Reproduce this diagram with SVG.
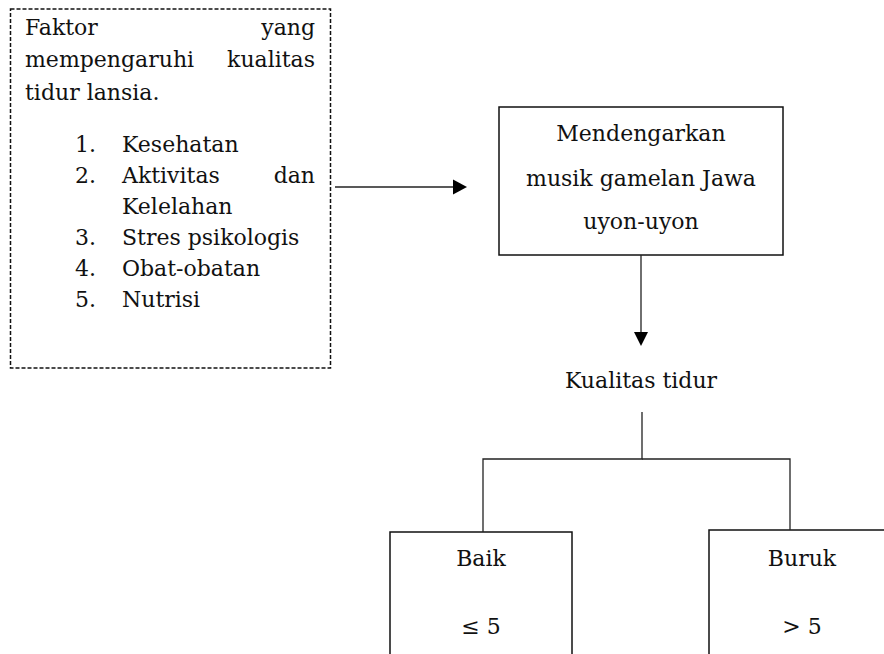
<svg xmlns="http://www.w3.org/2000/svg" width="884" height="654" viewBox="0 0 884 654">
<style>
text{font-family:"DejaVu Serif","Liberation Serif",serif;font-size:22px;fill:#111}
.box{fill:none;stroke:#111;stroke-width:1.5}
.dash{fill:none;stroke:#111;stroke-width:1.5;stroke-dasharray:4 2}
.ln{fill:none;stroke:#222;stroke-width:1.3}
.mid{text-anchor:middle}
.end{text-anchor:end}
</style>
<g id="factors">
<rect class="dash" x="10.5" y="9" width="320" height="359"/>
<text x="25" y="35">Faktor</text><text class="end" x="315" y="35">yang</text>
<text x="25" y="67">mempengaruhi</text><text class="end" x="315" y="67">kualitas</text>
<text x="25" y="100">tidur lansia.</text>
<text x="75" y="152">1.</text><text x="122" y="152">Kesehatan</text>
<text x="75" y="183">2.</text><text x="122" y="183">Aktivitas</text><text class="end" x="315" y="183">dan</text>
<text x="122" y="214">Kelelahan</text>
<text x="75" y="245">3.</text><text x="122" y="245">Stres psikologis</text>
<text x="75" y="276">4.</text><text x="122" y="276">Obat-obatan</text>
<text x="75" y="307">5.</text><text x="122" y="307">Nutrisi</text>
</g>
<g id="music">
<rect class="box" x="499" y="107" width="284" height="148"/>
<text class="mid" x="641" y="141">Mendengarkan</text>
<text class="mid" x="641" y="186">musik gamelan Jawa</text>
<text class="mid" x="641" y="229">uyon-uyon</text>
</g>
<g id="quality">
<text class="mid" x="641" y="388">Kualitas tidur</text>
</g>
<g id="good">
<rect class="box" x="390" y="532" width="182" height="140"/>
<text class="mid" x="481" y="566">Baik</text>
<text class="mid" x="481" y="634">≤ 5</text>
</g>
<g id="bad">
<rect class="box" x="709" y="530" width="200" height="140"/>
<text class="mid" x="802" y="566">Buruk</text>
<text class="mid" x="802" y="634">&gt; 5</text>
</g>
<g id="connectors">
<line class="ln" x1="335" y1="187" x2="454" y2="187"/>
<polygon points="453,179.5 467,187 453,194.5" fill="#000"/>
<line class="ln" x1="641" y1="255" x2="641" y2="333"/>
<polygon points="634,332 648,332 641,346" fill="#000"/>
<polyline class="ln" points="642,412 642,459 483,459 483,532"/>
<polyline class="ln" points="642,459 790,459 790,530"/>
</g>
</svg>
